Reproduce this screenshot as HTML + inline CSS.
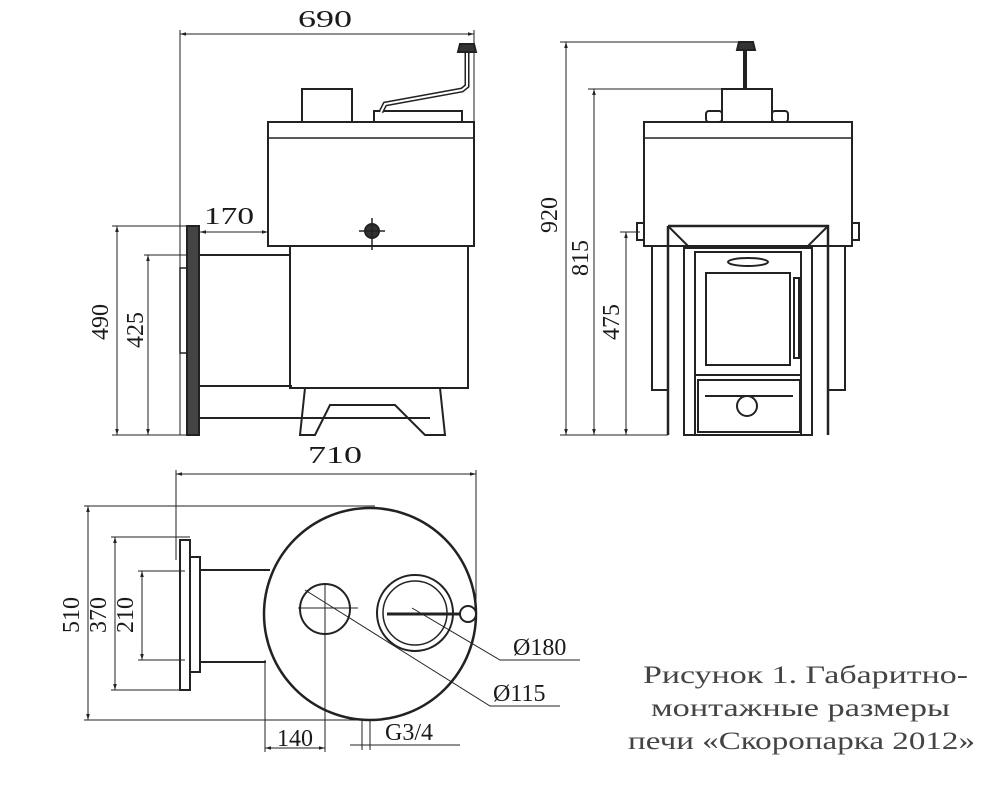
<!DOCTYPE html>
<html><head><meta charset="utf-8"><style>
html,body{margin:0;padding:0;background:#fff;}
svg{display:block;}
text{font-family:"Liberation Serif",serif;fill:#1a1a1a;}
</style></head><body>
<svg width="1000" height="789" viewBox="0 0 1000 789" xmlns="http://www.w3.org/2000/svg">
<defs>
<marker id="a" viewBox="0 0 10 10" refX="10" refY="5" markerWidth="8" markerHeight="6" orient="auto-start-reverse"><path d="M0,2 L10,5 L0,8 z" fill="#222"/></marker>
</defs>
<g stroke="#222" fill="none" stroke-width="1">
<line x1="180" y1="34" x2="474" y2="34" marker-start="url(#a)" marker-end="url(#a)"/>
<line x1="180" y1="30" x2="180" y2="435"/>
<line x1="474" y1="30" x2="474" y2="122"/>
<line x1="200" y1="232" x2="268" y2="232" marker-start="url(#a)" marker-end="url(#a)"/>
<line x1="117" y1="226" x2="117" y2="435" marker-start="url(#a)" marker-end="url(#a)"/>
<line x1="112" y1="226" x2="190" y2="226"/>
<line x1="112" y1="435" x2="190" y2="435"/>
<line x1="148" y1="255" x2="148" y2="435" marker-start="url(#a)" marker-end="url(#a)"/>
<line x1="144" y1="255" x2="215" y2="255"/>
</g>
<g stroke="#222" fill="none" stroke-width="2">
<rect x="268" y="122" width="206" height="124"/>
<line x1="268" y1="138" x2="474" y2="138" stroke-width="1.5"/>
<rect x="302" y="89" width="50" height="33"/>
<rect x="374" y="111" width="88" height="11"/>
<path d="M381,112 L385,104 L462,90 L467,86 L467,52" stroke-width="5"/>
<path d="M381,112 L385,104 L462,90 L467,86 L467,52" stroke="#fff" stroke-width="2"/>
<path d="M458,52 L476,52 L474,44 L460,44 Z" fill="#333"/>
<rect x="290" y="246" width="178" height="142"/>
<path d="M200,255 L290,255 M200,386 L292,386 M200,418 L430,418"/>
<rect x="187" y="226" width="12" height="209" fill="#444"/>
<rect x="180" y="268" width="7" height="85" stroke-width="1.5"/>
<path d="M305,388 L300,435 L315,435 L330,405 L395,405 L425,435 L445,435 L440,388"/>
<circle cx="372" cy="231" r="7" fill="#333"/>
<line x1="372" y1="218" x2="372" y2="250" stroke-width="1.5"/>
<line x1="359" y1="231" x2="385" y2="231" stroke-width="1.5"/>
</g>
<g stroke="#222" fill="none" stroke-width="1">
<line x1="566" y1="42" x2="566" y2="435" marker-start="url(#a)" marker-end="url(#a)"/>
<line x1="560" y1="42" x2="740" y2="42"/>
<line x1="594" y1="89" x2="594" y2="435" marker-start="url(#a)" marker-end="url(#a)"/>
<line x1="588" y1="89" x2="722" y2="89"/>
<line x1="626" y1="232" x2="626" y2="435" marker-start="url(#a)" marker-end="url(#a)"/>
<line x1="620" y1="232" x2="640" y2="232"/>
<line x1="560" y1="435" x2="668" y2="435"/>
</g>
<g stroke="#222" fill="none" stroke-width="2">
<path d="M737,50 L755,50 L753,42 L739,42 Z" fill="#333"/>
<line x1="745" y1="50" x2="745" y2="89" stroke-width="4"/>
<rect x="722" y="89" width="50" height="33"/>
<rect x="706" y="111" width="16" height="11" rx="3"/>
<rect x="772" y="111" width="16" height="11" rx="3"/>
<rect x="644" y="122" width="208" height="124"/>
<line x1="644" y1="138" x2="852" y2="138" stroke-width="1.5"/>
<rect x="637" y="223" width="7" height="17"/>
<rect x="852" y="223" width="7" height="17"/>
<path d="M652,246 L652,390 L668,390 M845,246 L845,390 L828,390"/>
<path d="M668,226 L828,226 L828,435 M668,226 L668,435" stroke-width="2.5"/>
<path d="M668,226 L690,248 L806,248 L828,226"/>
<rect x="684" y="248" width="128" height="187"/>
<rect x="695" y="252" width="106" height="183"/>
<rect x="706" y="273" width="84" height="92"/>
<rect x="794" y="278" width="5" height="80"/>
<ellipse cx="748" cy="262" rx="20" ry="4"/>
<line x1="695" y1="375" x2="801" y2="375"/>
<rect x="698" y="380" width="102" height="52"/>
<line x1="705" y1="396" x2="793" y2="396"/>
<circle cx="747" cy="406" r="10"/>
</g>
<g stroke="#222" fill="none" stroke-width="1">
<line x1="176" y1="474" x2="476" y2="474" marker-start="url(#a)" marker-end="url(#a)"/>
<line x1="176" y1="470" x2="176" y2="560"/>
<line x1="476" y1="470" x2="476" y2="610"/>
<line x1="88" y1="506" x2="88" y2="720" marker-start="url(#a)" marker-end="url(#a)"/>
<line x1="84" y1="506" x2="375" y2="506"/>
<line x1="84" y1="720" x2="370" y2="720"/>
<line x1="115" y1="537" x2="115" y2="690" marker-start="url(#a)" marker-end="url(#a)"/>
<line x1="111" y1="537" x2="190" y2="537"/>
<line x1="111" y1="690" x2="190" y2="690"/>
<line x1="142" y1="571" x2="142" y2="660" marker-start="url(#a)" marker-end="url(#a)"/>
<line x1="138" y1="571" x2="185" y2="571"/>
<line x1="138" y1="660" x2="185" y2="660"/>
<line x1="265" y1="660" x2="265" y2="752"/>
<line x1="325" y1="585" x2="325" y2="752"/>
<line x1="265" y1="748" x2="325" y2="748" marker-start="url(#a)" marker-end="url(#a)"/>
<line x1="298" y1="608" x2="358" y2="608"/>
<line x1="362" y1="720" x2="362" y2="750"/>
<line x1="370" y1="720" x2="370" y2="750"/>
<line x1="350" y1="745" x2="460" y2="745"/>
<path d="M412,608 L500,660 L580,660"/>
<path d="M305,590 L490,706 L560,706"/>
</g>
<g stroke="#222" fill="none" stroke-width="2.5">
<circle cx="370" cy="614" r="106"/>
<circle cx="325" cy="609" r="25" stroke-width="2"/>
<circle cx="415" cy="613" r="38" stroke-width="2"/>
<circle cx="415" cy="613" r="32" stroke-width="1.5"/>
<line x1="387" y1="614" x2="460" y2="614" stroke-width="3"/>
<circle cx="468" cy="614" r="8" stroke-width="2" fill="#fff"/>
<path d="M200,570 L270,570 M200,662 L266,662" stroke-width="2"/>
<rect x="180" y="540" width="10" height="150" stroke-width="2"/>
<rect x="190" y="557" width="10" height="115" stroke-width="2"/>
</g>
<text x="298" y="27" font-size="24" textLength="54" lengthAdjust="spacingAndGlyphs">690</text>
<text x="204" y="224" font-size="24" textLength="50" lengthAdjust="spacingAndGlyphs">170</text>
<text transform="translate(108,322) rotate(-90)" font-size="24" text-anchor="middle">490</text>
<text transform="translate(143,330) rotate(-90)" font-size="24" text-anchor="middle">425</text>
<text transform="translate(557,215) rotate(-90)" font-size="24" text-anchor="middle">920</text>
<text transform="translate(588,258) rotate(-90)" font-size="24" text-anchor="middle">815</text>
<text transform="translate(619,322) rotate(-90)" font-size="24" text-anchor="middle">475</text>
<text x="308" y="463" font-size="24" textLength="54" lengthAdjust="spacingAndGlyphs">710</text>
<text transform="translate(79,615) rotate(-90)" font-size="24" text-anchor="middle">510</text>
<text transform="translate(106,615) rotate(-90)" font-size="24" text-anchor="middle">370</text>
<text transform="translate(133,615) rotate(-90)" font-size="24" text-anchor="middle">210</text>
<text x="295" y="746" font-size="24" text-anchor="middle">140</text>
<text x="385" y="740" font-size="24">G3/4</text>
<text x="513" y="655" font-size="24">Ø180</text>
<text x="493" y="701" font-size="24">Ø115</text>
<text x="643" y="683" font-size="25" textLength="325" lengthAdjust="spacingAndGlyphs" style="fill:#444">Рисунок 1. Габаритно-</text>
<text x="651" y="716" font-size="25" textLength="299" lengthAdjust="spacingAndGlyphs" style="fill:#444">монтажные размеры</text>
<text x="628" y="749" font-size="25" textLength="347" lengthAdjust="spacingAndGlyphs" style="fill:#444">печи «Скоропарка 2012»</text>
</svg>
</body></html>
